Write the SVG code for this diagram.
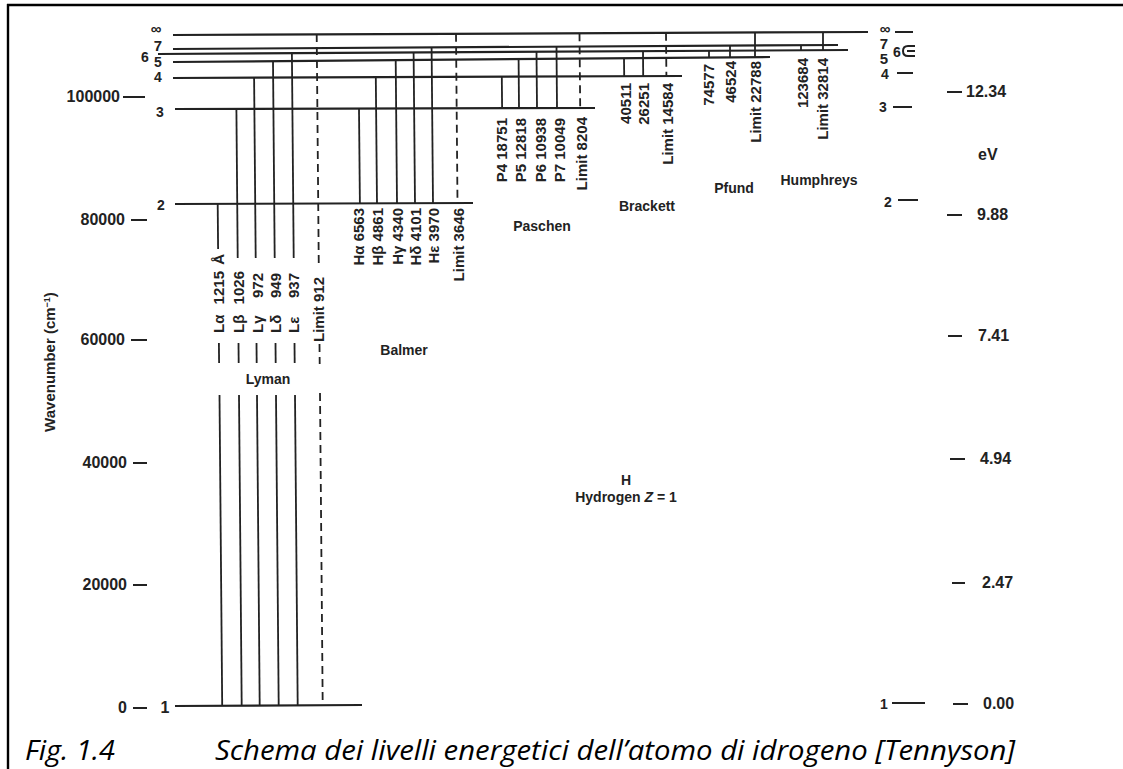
<svg xmlns="http://www.w3.org/2000/svg" width="1123" height="769" viewBox="0 0 1123 769">
<style>
.lv{stroke:#222;stroke-width:2.2;fill:none}
.tr{stroke:#222;stroke-width:1.8;fill:none}
.lim{stroke-dasharray:8 5}
.tk{stroke:#222;stroke-width:2;fill:none}
.t{font-family:"Liberation Sans",Arial,sans-serif;font-weight:bold;font-size:15px;fill:#222}
.sn{font-size:14px}
.ax{font-size:14px}
.num{font-size:16px}
.cap{font-family:"Open Sans","Noto Sans",sans-serif;font-style:italic;font-size:28px;fill:#000}
</style>
<rect width="1123" height="769" fill="#fff"/>
<g id="frame">
<line x1="7" y1="5" x2="1123" y2="5" stroke="#000" stroke-width="2.6"/>
<line x1="8" y1="4" x2="8" y2="769" stroke="#000" stroke-width="2.4"/>
</g>
<g id="axis-wavenumber">
<text class="t num" x="120" y="102" text-anchor="end">100000</text><line class="tk" x1="123" y1="97" x2="145" y2="97"/>
<text class="t num" x="125" y="225" text-anchor="end">80000</text><line class="tk" x1="131" y1="220" x2="147" y2="220"/>
<text class="t num" x="125" y="345" text-anchor="end">60000</text><line class="tk" x1="131" y1="340" x2="147" y2="340"/>
<text class="t num" x="127" y="468" text-anchor="end">40000</text><line class="tk" x1="133" y1="463" x2="147" y2="463"/>
<text class="t num" x="127" y="590" text-anchor="end">20000</text><line class="tk" x1="133" y1="585" x2="147" y2="585"/>
<text class="t num" x="127" y="713" text-anchor="end">0</text><line class="tk" x1="133" y1="708" x2="147" y2="708"/>
<text class="t" x="55" y="362" text-anchor="middle" font-size="13" transform="rotate(-90 55 362)">Wavenumber (cm<tspan font-size="9" dy="-5">−1</tspan><tspan dy="5">)</tspan></text>
</g>
<g id="levels">
<g id="level-inf"><text class="t" x="156" y="34" text-anchor="middle" font-size="11">∞</text><line class="lv" x1="173" y1="35" x2="868" y2="32"/></g>
<g id="level-7"><text class="t" x="158" y="51" text-anchor="middle" font-size="13">7</text><line class="lv" x1="173" y1="49" x2="838" y2="45"/></g>
<g id="level-6"><text class="t ax" x="145" y="62" text-anchor="middle">6</text><line class="lv" x1="158" y1="54" x2="848" y2="50"/></g>
<g id="level-5"><text class="t ax" x="158" y="67" text-anchor="middle">5</text><line class="lv" x1="173" y1="62" x2="770" y2="57"/></g>
<g id="level-4"><text class="t ax" x="158" y="82" text-anchor="middle">4</text><line class="lv" x1="173" y1="78" x2="682" y2="76"/></g>
<g id="level-3"><text class="t ax" x="160" y="117" text-anchor="middle">3</text><line class="lv" x1="175" y1="109" x2="595" y2="108"/></g>
<g id="level-2"><text class="t ax" x="161" y="210" text-anchor="middle">2</text><line class="lv" x1="175" y1="204" x2="473" y2="203"/></g>
<g id="level-1"><text class="t num" x="165" y="713" text-anchor="middle">1</text><line class="lv" x1="175" y1="706" x2="362" y2="705"/></g>
</g>
<g id="connectors">
<g id="lyman">
<line class="tr" x1="217.7" y1="204" x2="218.1" y2="249"/><line class="tr" x1="218.9" y1="343" x2="219.1" y2="363"/><line class="tr" x1="219.5" y1="395" x2="222.2" y2="705"/>
<line class="tr" x1="236.4" y1="109" x2="237.7" y2="258"/><line class="tr" x1="238.5" y1="343" x2="238.7" y2="363"/><line class="tr" x1="239" y1="395" x2="241.7" y2="705"/>
<line class="tr" x1="254.1" y1="78" x2="255.7" y2="258"/><line class="tr" x1="256.5" y1="343" x2="256.7" y2="363"/><line class="tr" x1="257" y1="395" x2="259.7" y2="705"/>
<line class="tr" x1="273" y1="61" x2="274.7" y2="258"/><line class="tr" x1="275.5" y1="343" x2="275.7" y2="363"/><line class="tr" x1="276" y1="395" x2="278.7" y2="705"/>
<line class="tr" x1="291.9" y1="53" x2="293.7" y2="258"/><line class="tr" x1="294.5" y1="343" x2="294.7" y2="363"/><line class="tr" x1="295" y1="395" x2="297.7" y2="705"/>
<line class="tr lim" x1="316.7" y1="34" x2="318.8" y2="268"/><line class="tr lim" x1="319.5" y1="344" x2="319.7" y2="364"/><line class="tr lim" x1="320" y1="393" x2="322.7" y2="705"/>
</g>
<g id="balmer">
<line class="tr" x1="359" y1="108.6" x2="359.9" y2="203.5"/>
<line class="tr" x1="375.8" y1="77" x2="377" y2="203.5"/>
<line class="tr" x1="395.7" y1="60" x2="397" y2="203.5"/>
<line class="tr" x1="413.6" y1="52.5" x2="415" y2="203.5"/>
<line class="tr" x1="431.6" y1="47.4" x2="433" y2="203.5"/>
<line class="tr lim" x1="456" y1="33.8" x2="457.5" y2="203.5"/>
</g>
<g id="paschen">
<line class="tr" x1="501.8" y1="76.7" x2="502.1" y2="108"/>
<line class="tr" x1="518.6" y1="59.1" x2="519" y2="108"/>
<line class="tr" x1="536.5" y1="51.8" x2="537" y2="108"/>
<line class="tr" x1="556.5" y1="46.7" x2="557" y2="108"/>
<line class="tr lim" x1="579.5" y1="33.2" x2="580.2" y2="108"/>
</g>
<g id="brackett">
<line class="tr" x1="624" y1="58.2" x2="624.2" y2="76"/>
<line class="tr" x1="643" y1="50.9" x2="643.2" y2="76"/>
<line class="tr lim" x1="666" y1="32.8" x2="666.4" y2="76"/>
</g>
<g id="pfund">
<line class="tr" x1="709" y1="50.6" x2="709" y2="57.5"/>
<line class="tr" x1="730" y1="45.6" x2="730" y2="57.3"/>
<line class="tr" x1="755" y1="32.3" x2="755" y2="57.1"/>
</g>
<g id="humphreys">
<line class="tr" x1="801" y1="45.2" x2="801" y2="50.1"/>
<line class="tr" x1="823" y1="32.2" x2="823" y2="50.1"/>
</g>
</g>
<g id="lyman-labels">
<text class="t" x="223.5" y="333" transform="rotate(-90 223.5 333)">Lα</text>
<text class="t" x="223.5" y="271" text-anchor="end" transform="rotate(-90 223.5 271)">1215</text>
<text class="t" x="223.5" y="254" text-anchor="end" transform="rotate(-90 223.5 254)">Å</text>
<text class="t" x="243.5" y="333" transform="rotate(-90 243.5 333)">Lβ</text>
<text class="t" x="243.5" y="271" text-anchor="end" transform="rotate(-90 243.5 271)">1026</text>
<text class="t" x="262.5" y="333" transform="rotate(-90 262.5 333)">Lγ</text>
<text class="t" x="262.5" y="273" text-anchor="end" transform="rotate(-90 262.5 273)">972</text>
<text class="t" x="280.5" y="333" transform="rotate(-90 280.5 333)">Lδ</text>
<text class="t" x="280.5" y="273" text-anchor="end" transform="rotate(-90 280.5 273)">949</text>
<text class="t" x="298.5" y="333" transform="rotate(-90 298.5 333)">Lε</text>
<text class="t" x="298.5" y="273" text-anchor="end" transform="rotate(-90 298.5 273)">937</text>
<text class="t" x="323.5" y="342" transform="rotate(-90 323.5 342)">Limit 912</text>
<text class="t sn" x="268" y="384" text-anchor="middle">Lyman</text>
</g>
<g id="balmer-labels">
<text class="t" x="363.5" y="208" text-anchor="end" transform="rotate(-90 363.5 208)">Hα 6563</text>
<text class="t" x="383" y="208" text-anchor="end" transform="rotate(-90 383 208)">Hβ 4861</text>
<text class="t" x="403" y="208" text-anchor="end" transform="rotate(-90 403 208)">Hγ 4340</text>
<text class="t" x="421" y="208" text-anchor="end" transform="rotate(-90 421 208)">Hδ 4101</text>
<text class="t" x="439" y="208" text-anchor="end" transform="rotate(-90 439 208)">Hε 3970</text>
<text class="t" x="463.5" y="208" text-anchor="end" transform="rotate(-90 463.5 208)">Limit 3646</text>
<text class="t sn" x="404" y="355" text-anchor="middle">Balmer</text>
</g>
<g id="paschen-labels">
<text class="t" x="506.5" y="118" text-anchor="end" transform="rotate(-90 506.5 118)">P4 18751</text>
<text class="t" x="526" y="118" text-anchor="end" transform="rotate(-90 526 118)">P5 12818</text>
<text class="t" x="546" y="118" text-anchor="end" transform="rotate(-90 546 118)">P6 10938</text>
<text class="t" x="564.5" y="118" text-anchor="end" transform="rotate(-90 564.5 118)">P7 10049</text>
<text class="t" x="586.5" y="117" text-anchor="end" transform="rotate(-90 586.5 117)">Limit 8204</text>
<text class="t sn" x="542" y="231" text-anchor="middle">Paschen</text>
</g>
<g id="brackett-labels">
<text class="t" x="630.5" y="83" text-anchor="end" transform="rotate(-90 630.5 83)">40511</text>
<text class="t" x="648.5" y="83" text-anchor="end" transform="rotate(-90 648.5 83)">26251</text>
<text class="t" x="672.5" y="83" text-anchor="end" transform="rotate(-90 672.5 83)">Limit 14584</text>
<text class="t sn" x="647" y="211" text-anchor="middle">Brackett</text>
</g>
<g id="pfund-labels">
<text class="t" x="714" y="64" text-anchor="end" transform="rotate(-90 714 64)">74577</text>
<text class="t" x="735.5" y="61" text-anchor="end" transform="rotate(-90 735.5 61)">46524</text>
<text class="t" x="760.5" y="61" text-anchor="end" transform="rotate(-90 760.5 61)">Limit 22788</text>
<text class="t sn" x="734" y="193" text-anchor="middle">Pfund</text>
</g>
<g id="humphreys-labels">
<text class="t" x="807.5" y="58" text-anchor="end" transform="rotate(-90 807.5 58)">123684</text>
<text class="t" x="827.5" y="58" text-anchor="end" transform="rotate(-90 827.5 58)">Limit 32814</text>
<text class="t sn" x="819" y="185" text-anchor="middle">Humphreys</text>
</g>
<g id="title">
<text class="t sn" x="626" y="485" text-anchor="middle">H</text>
<text class="t sn" x="626" y="502" text-anchor="middle">Hydrogen <tspan font-style="italic">Z</tspan> = 1</text>
</g>
<g id="axis-ev">
<text class="t" x="885" y="34" text-anchor="middle" font-size="11">∞</text><line class="tk" x1="895" y1="32" x2="913" y2="32"/>
<text class="t" x="884" y="49" text-anchor="middle" font-size="13">7</text>
<text class="t ax" x="897" y="57" text-anchor="middle" font-size="12">6</text>
<text class="t" x="884" y="64" text-anchor="middle" font-size="13">5</text>
<path class="tk" d="M915,46 H908 Q903,46 903,51 Q903,56 908,56 H915 M907,51 H915" stroke-width="1.8"/>
<text class="t ax" x="885" y="79" text-anchor="middle">4</text><line class="tk" x1="897" y1="73" x2="913" y2="73"/>
<text class="t ax" x="883" y="112" text-anchor="middle">3</text><line class="tk" x1="893" y1="107" x2="912" y2="107"/>
<text class="t ax" x="888" y="207" text-anchor="middle">2</text><line class="tk" x1="898" y1="200" x2="918" y2="200"/>
<text class="t ax" x="884" y="709" text-anchor="middle">1</text><line class="tk" x1="892" y1="703" x2="925" y2="703"/>
<line class="tk" x1="947" y1="92" x2="962" y2="92"/><text class="t num" x="966" y="97">12.34</text>
<text class="t num" x="978" y="160">eV</text>
<line class="tk" x1="947" y1="215" x2="962" y2="215"/><text class="t num" x="977" y="220">9.88</text>
<line class="tk" x1="948" y1="336" x2="962" y2="336"/><text class="t num" x="978" y="341">7.41</text>
<line class="tk" x1="950" y1="459" x2="965" y2="459"/><text class="t num" x="980" y="464">4.94</text>
<line class="tk" x1="952" y1="583" x2="965" y2="583"/><text class="t num" x="982" y="588">2.47</text>
<line class="tk" x1="953" y1="704" x2="968" y2="704"/><text class="t num" x="983" y="709">0.00</text>
</g>
<g id="caption">
<text class="cap" x="25" y="760" textLength="90" lengthAdjust="spacingAndGlyphs">Fig. 1.4</text>
<text class="cap" x="215" y="760" textLength="800" lengthAdjust="spacingAndGlyphs">Schema dei livelli energetici dell’atomo di idrogeno [Tennyson]</text>
</g>
</svg>
